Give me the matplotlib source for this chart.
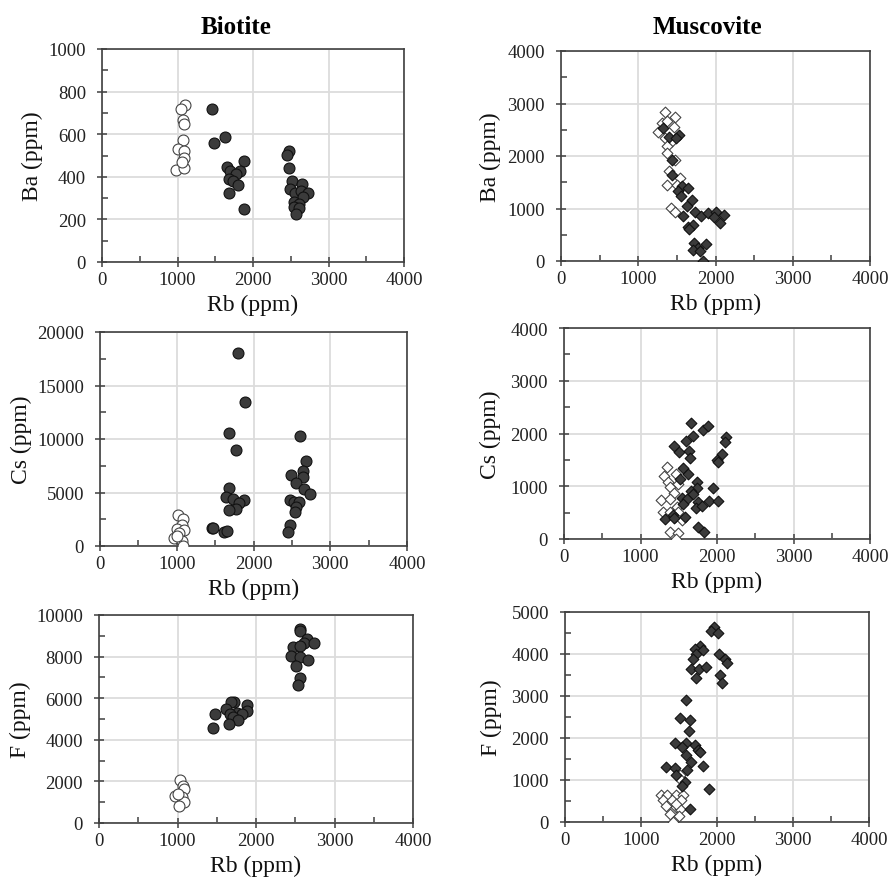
"""Biotite / muscovite trace element vs Rb scatter panels."""

import numpy as np
import matplotlib
matplotlib.use("Agg")
import matplotlib.pyplot as plt
from matplotlib.ticker import MultipleLocator

plt.rcParams["font.family"] = ["Liberation Serif", "DejaVu Serif"]

# ---- Biotite: Ba vs Rb ----
bt_ba_open_rb = [1104, 1051, 1073, 1086, 1073, 1007, 1086, 1082, 976, 1086, 1060]
bt_ba_open_ba = [739, 719, 667, 647, 575, 531, 523, 487, 434, 441, 470]
bt_ba_fill_rb = [1457, 1483, 1625, 1876, 1656, 1691, 1823, 1779, 1682, 1735, 1801, 1682, 1881,
                 2472, 2446, 2477, 2517, 2486, 2649, 2552, 2640, 2728, 2662, 2539, 2609, 2539,
                 2609, 2565]
bt_ba_fill_ba = [716, 561, 589, 473, 445, 425, 425, 414, 391, 380, 363, 325, 250,
                 523, 502, 441, 380, 341, 364, 323, 333, 325, 305, 281, 273, 258,
                 253, 227]

# ---- Biotite: Cs vs Rb ----
bt_cs_open_rb = [1022, 1087, 1065, 1009, 1100, 965, 1035, 1065, 1078, 1009]
bt_cs_open_cs = [2875, 2500, 1938, 1563, 1500, 781, 1250, 469, 0, 938]
bt_cs_fill_rb = [1796, 1883, 1683, 1770, 2609, 2683, 2639, 2639, 2483, 2552, 2652, 2730,
                 2478, 2522, 2587, 2557, 2535, 2478, 2448, 1687, 1643, 1730, 1878, 1817,
                 1770, 1687, 1457, 1478, 1622, 1652]
bt_cs_fill_cs = [18063, 13438, 10563, 9000, 10250, 7906, 7000, 6406, 6625, 5875, 5313, 4844,
                 4281, 4156, 4125, 3656, 3188, 1938, 1344, 5406, 4625, 4375, 4281, 4000,
                 3438, 3375, 1719, 1719, 1344, 1406]

# ---- Biotite: F vs Rb ----
bt_f_open_rb = [1033, 1067, 1084, 969, 1054, 1084, 1024, 1012]
bt_f_open_f = [2048, 1776, 1616, 1280, 1248, 1008, 816, 1408]
bt_f_fill_rb = [2555, 2563, 2648, 2606, 2733, 2470, 2555, 2444, 2555, 2657, 2512, 2555, 2529,
                1726, 1679, 1883, 1615, 1883, 1764, 1671, 1820, 1479, 1704, 1777, 1662, 1458]
bt_f_fill_f = [9328, 9248, 8848, 8656, 8640, 8448, 8528, 8048, 8000, 7840, 7568, 6960, 6640,
               5808, 5808, 5696, 5504, 5376, 5296, 5248, 5248, 5248, 5088, 4928, 4736, 4576]

# ---- Muscovite: Ba vs Rb ----
ms_ba_open_rb = [1349, 1302, 1375, 1478, 1457, 1259, 1341, 1435, 1375, 1366, 1474, 1397, 1543,
                 1366, 1496, 1418, 1474]
ms_ba_open_ba = [2844, 2622, 2667, 2749, 2552, 2457, 2337, 2292, 2197, 2063, 1924, 1714, 1575,
                 1448, 1441, 1003, 940]
ms_ba_fill_rb = [1315, 1401, 1530, 1487, 1440, 1431, 1569, 1638, 1509, 1552, 1698, 1625, 1733,
                 1806, 1582, 1905, 2000, 1978, 2056, 2112, 1638, 1711, 1659, 1724, 1776, 1711,
                 1871, 1797, 1832]
ms_ba_fill_ba = [2527, 2362, 2400, 2337, 1924, 1644, 1429, 1397, 1333, 1244, 1168, 1048, 940,
                 857, 857, 908, 927, 838, 717, 870, 654, 679, 603, 349, 254, 210,
                 330, 190, 0]

# ---- Muscovite: Cs vs Rb ----
ms_cs_open_rb = [1342, 1307, 1464, 1364, 1495, 1386, 1442, 1264, 1386, 1473, 1298, 1386, 1495,
                 1451, 1538, 1381, 1486, 1464]
ms_cs_open_cs = [1361, 1203, 1234, 1089, 1044, 981, 873, 741, 759, 601, 506, 506, 506,
                 411, 367, 139, 108, 0]
ms_cs_fill_rb = [1656, 1813, 1878, 1682, 1590, 1438, 1503, 1634, 1647, 2118, 2105, 2061, 1996,
                 2017, 1551, 1625, 1516, 1734, 1743, 1656, 1691, 1952, 1538, 1603, 1747, 1900,
                 2009, 1560, 1721, 1808, 1429, 1320, 1438, 1582, 1756, 1834]
ms_cs_fill_cs = [2203, 2070, 2133, 1962, 1867, 1772, 1646, 1677, 1532, 1930, 1835, 1614, 1500,
                 1468, 1342, 1234, 1139, 1076, 962, 918, 854, 968, 778, 759, 709, 728,
                 715, 665, 595, 620, 456, 380, 399, 411, 222, 127]

# ---- Muscovite: F vs Rb ----
ms_f_open_rb = [1508, 1530, 1268, 1342, 1464, 1552, 1294, 1403, 1521, 1326, 1456, 1517, 1385,
                1500, 1421, 1464]
ms_f_open_f = [1123, 989, 633, 649, 633, 633, 514, 530, 514, 380, 356, 301, 198, 142, 0, 435]
ms_f_fill_rb = [1967, 1924, 2011, 1770, 1705, 1814, 1727, 1683, 2024, 2111, 2129, 1661, 1757,
                1849, 2033, 1727, 2068, 1587, 1508, 1648, 1630, 1451, 1595, 1539, 1705, 1749,
                1770, 1587, 1661, 1814, 1325, 1443, 1605, 1456, 1574, 1543, 1893, 1648]
ms_f_fill_f = [4652, 4549, 4509, 4193, 4114, 4098, 3995, 3892, 3995, 3877, 3782, 3639, 3639,
               3679, 3497, 3418, 3299, 2911, 2476, 2429, 2176, 1883, 1883, 1796, 1843, 1725,
               1677, 1598, 1424, 1329, 1305, 1282, 1250, 1108, 949, 854, 775, 301]

FILL = "#3b3b3b"
GRID = "#dcdcdc"
SPINE = "#404040"
W, H = 888, 879

fig = plt.figure(figsize=(W / 100, H / 100), dpi=100)


def make_ax(left, top, right, bottom):
    return fig.add_axes([left / W, 1 - bottom / H, (right - left) / W, (bottom - top) / H])


def style(ax, ymax, ymajor, ylabel, box, ylab_off):
    left, top, right, bottom = box
    ax.set_xlim(0, 4000)
    ax.set_ylim(0, ymax)
    ax.xaxis.set_major_locator(MultipleLocator(1000))
    ax.xaxis.set_minor_locator(MultipleLocator(500))
    ax.yaxis.set_major_locator(MultipleLocator(ymajor))
    ax.yaxis.set_minor_locator(MultipleLocator(ymajor / 2))
    ax.grid(True, which="major", color=GRID, linewidth=1.3)
    ax.set_axisbelow(True)
    for sp in ax.spines.values():
        sp.set_color(SPINE)
        sp.set_linewidth(1.2)
    ax.tick_params(which="major", direction="inout", length=7, width=1.1, color=SPINE,
                   labelsize=13.5, labelcolor="#222222")
    ax.tick_params(which="minor", direction="in", length=4, width=1.1, color=SPINE)
    ax.tick_params(axis="x", which="major", pad=3)
    ax.tick_params(axis="y", which="major", pad=8)
    ax.set_xlabel("Rb (ppm)", fontsize=17, color="#111111")
    ax.set_ylabel(ylabel, fontsize=17, color="#111111")
    ax.xaxis.set_label_coords(0.5, -32 / (bottom - top))
    ax.yaxis.set_label_coords(-ylab_off / (right - left), 0.5)


def circles(ax, xo, yo, xf, yf):
    ax.scatter(xo, yo, s=62, marker="o", facecolor="white", edgecolor="#444444",
               linewidth=0.8, zorder=3)
    ax.scatter(xf, yf, s=62, marker="o", facecolor=FILL, edgecolor="#111111",
               linewidth=0.8, zorder=3)


def diamonds(ax, xo, yo, xf, yf):
    ax.scatter(xo, yo, s=30, marker="D", facecolor="white", edgecolor="#444444",
               linewidth=0.8, zorder=3)
    ax.scatter(xf, yf, s=30, marker="D", facecolor=FILL, edgecolor="#111111",
               linewidth=0.8, zorder=3)


boxes = {
    "bt_ba": (102, 50, 404, 263),
    "ms_ba": (561, 52, 870, 262),
    "bt_cs": (100, 333, 407, 547),
    "ms_cs": (564, 329, 870, 540),
    "bt_f": (99, 616, 413, 824),
    "ms_f": (565, 613, 869, 823),
}

ax = make_ax(*boxes["bt_ba"])
style(ax, 1000, 200, "Ba (ppm)", boxes["bt_ba"], 59)
circles(ax, bt_ba_open_rb, bt_ba_open_ba, bt_ba_fill_rb, bt_ba_fill_ba)

ax = make_ax(*boxes["ms_ba"])
style(ax, 4000, 1000, "Ba (ppm)", boxes["ms_ba"], 60)
diamonds(ax, ms_ba_open_rb, ms_ba_open_ba, ms_ba_fill_rb, ms_ba_fill_ba)

ax = make_ax(*boxes["bt_cs"])
style(ax, 20000, 5000, "Cs (ppm)", boxes["bt_cs"], 68)
circles(ax, bt_cs_open_rb, bt_cs_open_cs, bt_cs_fill_rb, bt_cs_fill_cs)

ax = make_ax(*boxes["ms_cs"])
style(ax, 4000, 1000, "Cs (ppm)", boxes["ms_cs"], 63)
diamonds(ax, ms_cs_open_rb, ms_cs_open_cs, ms_cs_fill_rb, ms_cs_fill_cs)

ax = make_ax(*boxes["bt_f"])
style(ax, 10000, 2000, "F (ppm)", boxes["bt_f"], 68)
circles(ax, bt_f_open_rb, bt_f_open_f, bt_f_fill_rb, bt_f_fill_f)

ax = make_ax(*boxes["ms_f"])
style(ax, 5000, 1000, "F (ppm)", boxes["ms_f"], 63)
diamonds(ax, ms_f_open_rb, ms_f_open_f, ms_f_fill_rb, ms_f_fill_f)

fig.text(236 / W, 1 - 27 / H, "Biotite", fontsize=18, fontweight="bold", ha="center", va="center")
fig.text(707 / W, 1 - 27 / H, "Muscovite", fontsize=18, fontweight="bold", ha="center", va="center")

fig.savefig("out.png", dpi=100)
